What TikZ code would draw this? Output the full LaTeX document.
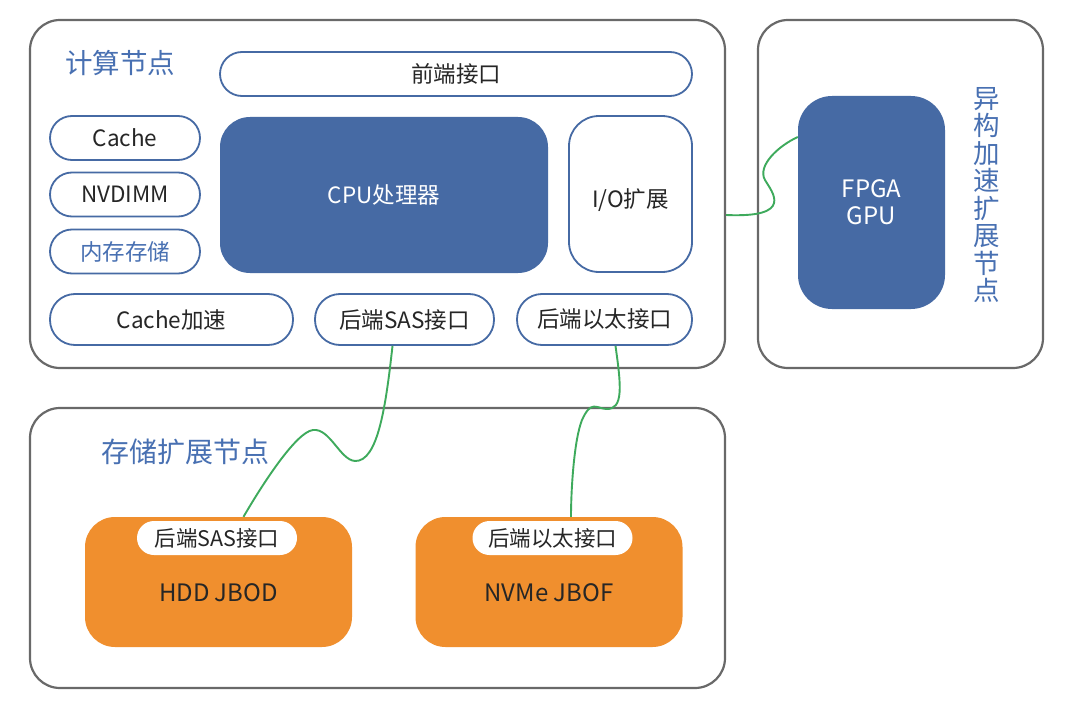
\documentclass[tikz,border=0pt]{standalone}
\usepackage{fontspec}
\setmainfont{Noto Sans CJK SC}
\usepackage{tikz}
\usetikzlibrary{calc}
\definecolor{nodeblue}{RGB}{70,106,164}
\definecolor{titleblue}{RGB}{72,112,178}
\definecolor{framegray}{RGB}{105,105,105}
\definecolor{diskorange}{RGB}{240,143,46}
\definecolor{linkgreen}{RGB}{62,170,92}

\begin{document}
\begin{tikzpicture}[x=1pt, y=-1pt, font=\fontsize{22.5}{26}\selectfont, text=black!85]
  \tikzset{frame/.style={draw=framegray, line width=2.2pt, rounded corners=30pt, fill=white},part/.style={draw=nodeblue, line width=1.8pt, rounded corners=22pt, fill=white, align=center, inner sep=0pt},core/.style={fill=nodeblue, rounded corners=30pt, text=white, align=center, inner sep=0pt},disk/.style={fill=diskorange, rounded corners=30pt, minimum width=267pt, minimum height=130pt},port/.style={fill=white, rounded corners=17pt, minimum width=160pt, minimum height=34pt, inner sep=0pt, font=\fontsize{21.5}{24}\selectfont},title/.style={text=titleblue, font=\fontsize{27.5}{27.5}\selectfont, align=center},link/.style={draw=linkgreen, line width=1.9pt}}
  \useasboundingbox (0,0) rectangle (1080,701);
  % outer frames
  \node[frame, minimum width=695pt, minimum height=348pt] (compute) at (377.5,194) {};
  \node[frame, minimum width=285pt, minimum height=348pt] (hetero) at (900.5,194) {};
  \node[frame, minimum width=695pt, minimum height=280pt] (storage) at (377.5,548) {};
  \node[title] (computetitle) at (120,63) {计算节点};
  \node[title, font=\fontsize{26.5}{27.5}\selectfont] (heterotitle) at (987,195) {异\\构\\加\\速\\扩\\展\\节\\点};
  \node[title, font=\fontsize{28}{30}\selectfont] (storagetitle) at (185,452) {存储扩展节点};
  % compute node parts
  \node[part, minimum width=472pt, minimum height=44pt] (front) at (456,74) {前端接口};
  \node[part, minimum width=150pt, minimum height=44pt] (cache) at (125,138) {Cache};
  \node[part, minimum width=150pt, minimum height=44pt] (nvdimm) at (125,194.5) {NVDIMM};
  \node[part, minimum width=150pt, minimum height=44pt, text=titleblue] (mem) at (125,251.5) {内存存储};
  \node[core, minimum width=328pt, minimum height=156pt] (cpu) at (384,195) {CPU处理器};
  \node[part, rounded corners=30pt, minimum width=123pt, minimum height=156pt, label={[yshift=-6pt, name=iotext]center:I/O扩展}] (io) at (630.5,194) {};
  \node[part, rounded corners=25pt, minimum width=243pt, minimum height=51pt] (cacheacc) at (171.5,319.5) {Cache加速};
  \node[part, rounded corners=25pt, minimum width=179pt, minimum height=51pt] (sas) at (404.5,319.5) {后端SAS接口};
  \node[part, rounded corners=25pt, minimum width=175pt, minimum height=51pt] (eth) at (604.5,319.5) {后端以太接口};
  % accelerator
  \node[core, rounded corners=34pt, minimum width=147pt, minimum height=213pt, font=\fontsize{24}{27}\selectfont] (fpga) at (871.5,202.5) {FPGA\\GPU};
  % storage expansion
  \node[disk, label={[yshift=-11pt, name=hddtext, font=\fontsize{24}{26}\selectfont]center:HDD JBOD}] (hdd) at (218.5,582) {};
  \node[disk, label={[yshift=-11pt, name=nvmetext, font=\fontsize{24}{26}\selectfont]center:NVMe JBOF}] (nvme) at (549,582) {};
  \node[port] (hddport) at (217,538) {后端SAS接口};
  \node[port] (nvmeport) at (552.5,538) {后端以太接口};
  % links
  \draw[link] ($(compute.east)+(0,21)$) .. controls (795,218) and (772,192) .. (765,180) .. controls (757,166) and (778,146) .. (fpga.west |- 0,137);
  \draw[link] ($(sas.south)+(-12,0)$) .. controls (386,405) and (378,462) .. (355,461) .. controls (340,460) and (330,428) .. (313,430) .. controls (296,432) and (262,485) .. ($(hdd.north)+(25,0)$);
  \draw[link] ($(eth.south)+(11,0)$) .. controls (621,385) and (624,410) .. (606,409) .. controls (596,408) and (591,400) .. (582,420) .. controls (574,440) and (571,490) .. ($(nvme.north)+(22,0)$);
\end{tikzpicture}
\end{document}
